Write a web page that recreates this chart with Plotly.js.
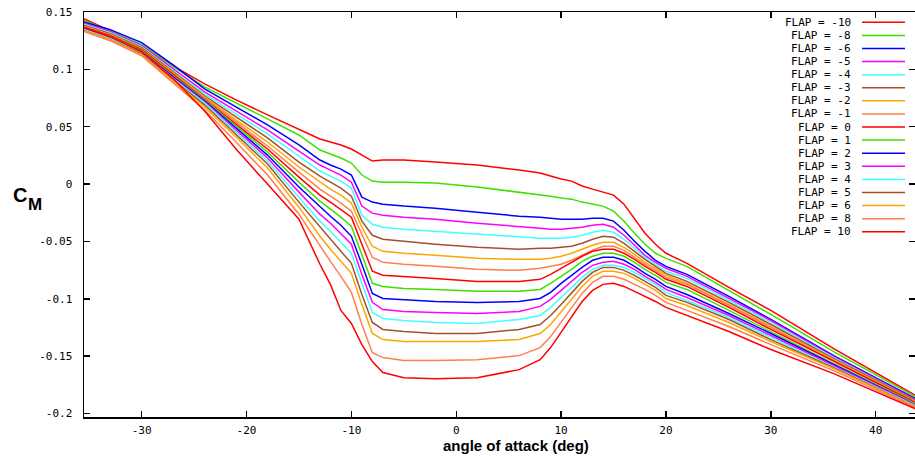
<!DOCTYPE html>
<html>
<head>
<meta charset="utf-8">
<script src="https://cdn.plot.ly/plotly-3.0.1.min.js"></script>
<style>html,body{margin:0;padding:0;background:#fff;}#chart{width:915px;height:457px;}</style>
</head>
<body>
<div id="chart"></div>
<script>
// angle of attack (deg)
const alpha = [-36, -33, -30, -27, -24, -21, -18, -15, -13, -12, -11, -10, -9, -8, -7, -5, -2, 2, 6, 8, 9, 10, 11, 12, 13, 14, 15, 16, 17, 18, 19, 20, 22, 26, 30, 36, 44];

const cm_m10 = [0.1460, 0.1337, 0.1206, 0.1031, 0.0874, 0.0734, 0.0603, 0.0481, 0.0393, 0.0367, 0.0341, 0.0306, 0.0253, 0.0201, 0.0210, 0.0210, 0.0192, 0.0166, 0.0122, 0.0096, 0.0070, 0.0044, 0.0026, -0.0017, -0.0044, -0.0070, -0.0096, -0.0175, -0.0306, -0.0428, -0.0524, -0.0603, -0.0691, -0.0900, -0.1101, -0.1434, -0.1853];
const cm_m8 = [0.1442, 0.1337, 0.1215, 0.1023, 0.0848, 0.0708, 0.0568, 0.0428, 0.0297, 0.0262, 0.0227, 0.0184, 0.0079, 0.0026, 0.0017, 0.0017, 0.0009, -0.0026, -0.0070, -0.0096, -0.0105, -0.0122, -0.0131, -0.0157, -0.0175, -0.0192, -0.0236, -0.0323, -0.0428, -0.0524, -0.0603, -0.0647, -0.0717, -0.0927, -0.1136, -0.1460, -0.1862];
const cm_m6 = [0.1425, 0.1346, 0.1233, 0.1040, 0.0830, 0.0673, 0.0516, 0.0341, 0.0210, 0.0166, 0.0131, 0.0079, -0.0114, -0.0157, -0.0175, -0.0192, -0.0210, -0.0245, -0.0280, -0.0288, -0.0297, -0.0306, -0.0306, -0.0306, -0.0297, -0.0297, -0.0323, -0.0402, -0.0498, -0.0586, -0.0664, -0.0717, -0.0787, -0.0979, -0.1180, -0.1495, -0.1879];
const cm_m5 = [0.1416, 0.1329, 0.1206, 0.1005, 0.0804, 0.0638, 0.0472, 0.0288, 0.0166, 0.0122, 0.0079, 0.0017, -0.0192, -0.0253, -0.0271, -0.0288, -0.0306, -0.0341, -0.0367, -0.0385, -0.0393, -0.0393, -0.0385, -0.0376, -0.0358, -0.0350, -0.0376, -0.0446, -0.0533, -0.0621, -0.0682, -0.0734, -0.0804, -0.0997, -0.1189, -0.1503, -0.1888];
const cm_m4 = [0.1407, 0.1320, 0.1198, 0.0988, 0.0787, 0.0612, 0.0437, 0.0245, 0.0114, 0.0070, 0.0026, -0.0035, -0.0271, -0.0350, -0.0376, -0.0393, -0.0411, -0.0437, -0.0463, -0.0472, -0.0472, -0.0472, -0.0463, -0.0446, -0.0420, -0.0402, -0.0420, -0.0481, -0.0559, -0.0638, -0.0699, -0.0760, -0.0822, -0.1014, -0.1206, -0.1512, -0.1897];
const cm_m3 = [0.1399, 0.1311, 0.1189, 0.0979, 0.0769, 0.0586, 0.0402, 0.0192, 0.0070, 0.0017, -0.0035, -0.0105, -0.0323, -0.0446, -0.0481, -0.0498, -0.0524, -0.0551, -0.0568, -0.0559, -0.0559, -0.0551, -0.0542, -0.0516, -0.0481, -0.0455, -0.0463, -0.0516, -0.0586, -0.0656, -0.0717, -0.0778, -0.0848, -0.1031, -0.1224, -0.1521, -0.1897];
const cm_m2 = [0.1390, 0.1302, 0.1180, 0.0970, 0.0760, 0.0559, 0.0367, 0.0149, 0.0017, -0.0044, -0.0096, -0.0166, -0.0376, -0.0542, -0.0586, -0.0603, -0.0621, -0.0647, -0.0656, -0.0656, -0.0647, -0.0629, -0.0603, -0.0568, -0.0533, -0.0507, -0.0507, -0.0551, -0.0612, -0.0682, -0.0734, -0.0795, -0.0865, -0.1049, -0.1241, -0.1530, -0.1906];
const cm_m1 = [0.1390, 0.1294, 0.1171, 0.0962, 0.0752, 0.0542, 0.0332, 0.0105, -0.0044, -0.0105, -0.0166, -0.0236, -0.0437, -0.0638, -0.0682, -0.0699, -0.0717, -0.0743, -0.0752, -0.0734, -0.0717, -0.0699, -0.0664, -0.0621, -0.0577, -0.0542, -0.0542, -0.0577, -0.0638, -0.0699, -0.0752, -0.0813, -0.0874, -0.1058, -0.1250, -0.1538, -0.1914];
const cm_0 = [0.1381, 0.1294, 0.1171, 0.0953, 0.0743, 0.0524, 0.0306, 0.0061, -0.0096, -0.0157, -0.0219, -0.0288, -0.0524, -0.0760, -0.0795, -0.0804, -0.0822, -0.0848, -0.0848, -0.0830, -0.0787, -0.0734, -0.0682, -0.0629, -0.0586, -0.0568, -0.0568, -0.0603, -0.0656, -0.0717, -0.0769, -0.0830, -0.0892, -0.1075, -0.1267, -0.1547, -0.1914];
const cm_p1 = [0.1372, 0.1285, 0.1163, 0.0944, 0.0734, 0.0507, 0.0280, 0.0017, -0.0149, -0.0219, -0.0288, -0.0367, -0.0612, -0.0865, -0.0892, -0.0909, -0.0918, -0.0935, -0.0935, -0.0918, -0.0865, -0.0804, -0.0743, -0.0673, -0.0629, -0.0603, -0.0603, -0.0629, -0.0682, -0.0743, -0.0795, -0.0857, -0.0918, -0.1101, -0.1285, -0.1565, -0.1923];
const cm_p2 = [0.1372, 0.1276, 0.1154, 0.0935, 0.0726, 0.0490, 0.0253, -0.0026, -0.0201, -0.0280, -0.0358, -0.0455, -0.0699, -0.0953, -0.0997, -0.1005, -0.1023, -0.1031, -0.1023, -0.0997, -0.0944, -0.0865, -0.0795, -0.0726, -0.0664, -0.0638, -0.0638, -0.0664, -0.0717, -0.0778, -0.0830, -0.0892, -0.0962, -0.1128, -0.1302, -0.1573, -0.1932];
const cm_p3 = [0.1364, 0.1276, 0.1154, 0.0927, 0.0717, 0.0472, 0.0227, -0.0070, -0.0262, -0.0341, -0.0428, -0.0524, -0.0787, -0.1031, -0.1093, -0.1110, -0.1119, -0.1128, -0.1110, -0.1066, -0.1005, -0.0927, -0.0848, -0.0769, -0.0708, -0.0682, -0.0673, -0.0699, -0.0743, -0.0804, -0.0857, -0.0918, -0.0988, -0.1145, -0.1320, -0.1582, -0.1932];
const cm_p4 = [0.1364, 0.1267, 0.1145, 0.0918, 0.0708, 0.0455, 0.0201, -0.0114, -0.0323, -0.0411, -0.0507, -0.0603, -0.0865, -0.1119, -0.1171, -0.1189, -0.1206, -0.1215, -0.1180, -0.1145, -0.1075, -0.0988, -0.0900, -0.0813, -0.0743, -0.0708, -0.0708, -0.0726, -0.0769, -0.0822, -0.0874, -0.0944, -0.1014, -0.1163, -0.1337, -0.1591, -0.1941];
const cm_p5 = [0.1355, 0.1259, 0.1136, 0.0909, 0.0691, 0.0437, 0.0175, -0.0157, -0.0376, -0.0481, -0.0586, -0.0691, -0.0962, -0.1206, -0.1267, -0.1285, -0.1302, -0.1302, -0.1267, -0.1224, -0.1145, -0.1049, -0.0944, -0.0848, -0.0769, -0.0726, -0.0726, -0.0752, -0.0795, -0.0848, -0.0900, -0.0970, -0.1031, -0.1180, -0.1355, -0.1600, -0.1949];
const cm_p6 = [0.1355, 0.1259, 0.1128, 0.0900, 0.0673, 0.0411, 0.0140, -0.0201, -0.0455, -0.0568, -0.0673, -0.0778, -0.1049, -0.1302, -0.1355, -0.1372, -0.1372, -0.1372, -0.1355, -0.1302, -0.1224, -0.1110, -0.0997, -0.0892, -0.0804, -0.0760, -0.0760, -0.0778, -0.0822, -0.0874, -0.0927, -0.0997, -0.1058, -0.1206, -0.1372, -0.1608, -0.1949];
const cm_p8 = [0.1346, 0.1250, 0.1119, 0.0883, 0.0647, 0.0367, 0.0079, -0.0262, -0.0542, -0.0673, -0.0804, -0.0944, -0.1224, -0.1469, -0.1512, -0.1538, -0.1538, -0.1530, -0.1495, -0.1425, -0.1329, -0.1206, -0.1075, -0.0953, -0.0857, -0.0804, -0.0804, -0.0830, -0.0874, -0.0918, -0.0970, -0.1031, -0.1101, -0.1241, -0.1399, -0.1626, -0.1958];
const cm_p10 = [0.1381, 0.1285, 0.1154, 0.0918, 0.0638, 0.0306, 0.0000, -0.0306, -0.0699, -0.0874, -0.1101, -0.1215, -0.1399, -0.1547, -0.1643, -0.1687, -0.1696, -0.1687, -0.1617, -0.1530, -0.1425, -0.1294, -0.1163, -0.1023, -0.0927, -0.0874, -0.0865, -0.0892, -0.0935, -0.0979, -0.1023, -0.1075, -0.1145, -0.1285, -0.1442, -0.1652, -0.1967];

const flaps = [-10, -8, -6, -5, -4, -3, -2, -1, 0, 1, 2, 3, 4, 5, 6, 8, 10];
const seriesCM = [cm_m10, cm_m8, cm_m6, cm_m5, cm_m4, cm_m3, cm_m2, cm_m1, cm_0, cm_p1, cm_p2, cm_p3, cm_p4, cm_p5, cm_p6, cm_p8, cm_p10];

const xTickVals = [-30, -20, -10, 0, 10, 20, 30, 40];
const xTickText = ['-30', '-20', '-10', '0', '10', '20', '30', '40'];
const yTickVals = [0.15, 0.1, 0.05, 0, -0.05, -0.1, -0.15, -0.2];
const yTickText = ['0.15', '0.1', '0.05', '0', '-0.05', '-0.1', '-0.15', '-0.2'];

// styling
const palette = ['#ff0000', '#3fe000', '#0000ff', '#ff00ff', '#40ffff', '#a0522d', '#ffa500', '#ff7f50'];
const monoFont = {family: 'DejaVu Sans Mono, monospace', size: 11, color: '#000'};

const traces = flaps.map((f, i) => ({
  x: alpha, y: seriesCM[i], type: 'scatter', mode: 'lines',
  name: 'FLAP = ' + f,
  line: {color: palette[i % palette.length], width: 1.5},
  hoverinfo: 'skip'
}));

// plot area in pixels
const L = 84, T = 12, W = 831, H = 405;
const px = v => (v - L) / W;
const py = v => (T + H - v) / H;

const annotations = [];
const shapes = [];
flaps.forEach((f, i) => {
  const yy = py(22.3 + 13.09 * i);
  annotations.push({xref: 'paper', yref: 'paper', x: px(853), y: yy, xanchor: 'right', yanchor: 'middle',
    text: 'FLAP = ' + f, showarrow: false, font: monoFont});
  shapes.push({type: 'line', xref: 'paper', yref: 'paper', x0: px(862), x1: px(905), y0: yy, y1: yy,
    line: {color: palette[i % palette.length], width: 1.5}});
});
annotations.push({xref: 'paper', yref: 'paper', x: px(11), y: py(195), xanchor: 'left', yanchor: 'middle',
  text: '<b>C</b>', showarrow: false, font: {family: 'Liberation Sans, Arial, sans-serif', size: 20, color: '#000'}});
annotations.push({xref: 'paper', yref: 'paper', x: px(26), y: py(204), xanchor: 'left', yanchor: 'middle',
  text: '<b>M</b>', showarrow: false, font: {family: 'Liberation Sans, Arial, sans-serif', size: 17, color: '#000'}});
annotations.push({xref: 'paper', yref: 'paper', x: px(516), y: py(446), xanchor: 'center', yanchor: 'middle',
  text: '<b>angle of attack (deg)</b>', showarrow: false, font: {family: 'Liberation Sans, Arial, sans-serif', size: 15, color: '#000'}});

const axisCommon = {
  showgrid: false, zeroline: false, showline: true, linecolor: '#000', linewidth: 1.5,
  mirror: 'ticks', ticks: 'inside', ticklen: 6, tickwidth: 1.5, tickcolor: '#000',
  tickfont: monoFont, tickmode: 'array'
};

const layout = {
  width: 915, height: 457,
  margin: {l: L, r: 0, t: T, b: 457 - T - H, pad: 0},
  paper_bgcolor: '#fff', plot_bgcolor: '#fff',
  showlegend: false,
  xaxis: Object.assign({}, axisCommon, {range: [-35.5, 43.75], tickvals: xTickVals, ticktext: xTickText, ticklabelstandoff: 2}),
  yaxis: Object.assign({}, axisCommon, {range: [-0.203, 0.15], tickvals: yTickVals, ticktext: yTickText, ticklabelstandoff: 8}),
  annotations: annotations,
  shapes: shapes
};

Plotly.newPlot('chart', traces, layout, {displayModeBar: false, staticPlot: true});
</script>
</body>
</html>
